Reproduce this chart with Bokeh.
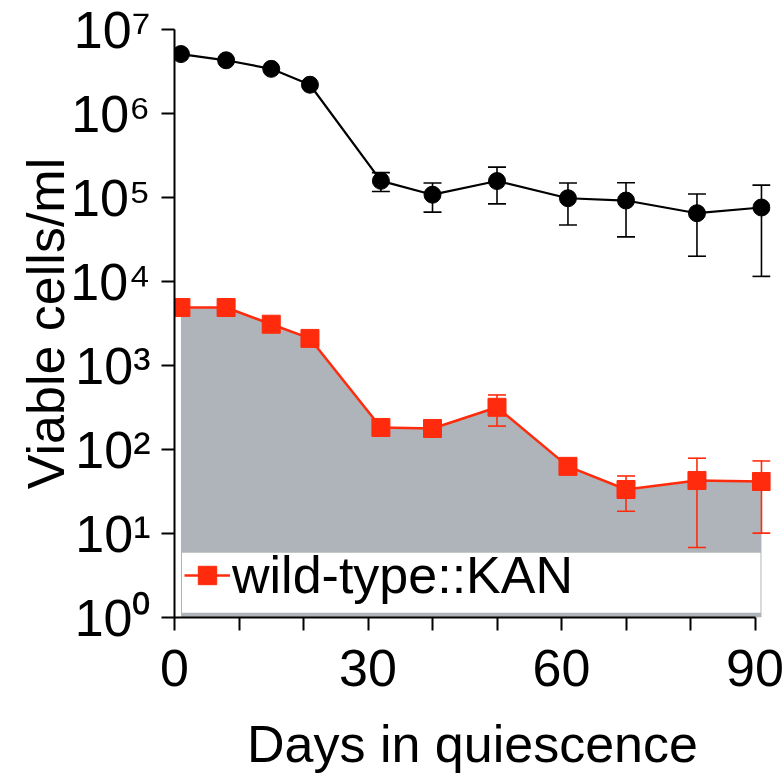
from bokeh.plotting import figure
from bokeh.models import (Range1d, FixedTicker, Legend, LegendItem, BoxAnnotation)
from bokeh.embed import file_html
from bokeh.resources import INLINE

# ---- data ----
days = [1, 8, 15, 21, 32, 40, 50, 61, 70, 81, 91]
black_cells = [5.1e6, 4.3e6, 3.4e6, 2.2e6, 1.58e5, 1.08e5, 1.57e5, 9.8e4, 9.2e4, 6.5e4, 7.6e4]
black_err = [0, 0, 0, 0, 4.0e4, 4.1e4, 7.3e4, 5.1e4, 5.8e4, 4.5e4, 6.45e4]
wt_kan_cells = [4900, 4900, 3100, 2100, 183, 178, 318, 63, 33.4, 42.8, 41.6]
wt_kan_err = [0, 0, 0, 0, 0, 0, 128, 0, 15, 36, 31.5]
legend_label = "wild-type::KAN"
x_title = "Days in quiescence"
y_title = "Viable cells/ml"
x_ticks = [0, 10, 20, 30, 40, 50, 60, 70, 80, 90]
x_tick_labels = ["0", "", "", "30", "", "", "60", "", "", "90"]
y_ticks = [1, 10, 100, 1e3, 1e4, 1e5, 1e6, 1e7]
y_tick_labels = ["10⁰", "10¹", "10²", "10³", "10⁴", "10⁵", "10⁶", "10⁷"]
area_floor = 1

FONT = "Liberation Sans"
RED = "#ff2b0c"
GRAY = "#aeb4b9"

p = figure(width=784, height=775, output_backend="svg", toolbar_location=None,
           y_axis_type="log", x_range=Range1d(0, 92.4), y_range=Range1d(1, 1e7),
           min_border_left=174, min_border_right=14, min_border_top=29,
           min_border_bottom=158)
p.xgrid.visible = False
p.ygrid.visible = False
p.outline_line_color = None
p.background_fill_color = "white"

# shaded area under the wild-type::KAN curve
p.varea(x=days, y1=[area_floor] * len(days), y2=wt_kan_cells, fill_color=GRAY)


def error_bars(xs, ys, errs, color):
    bx = [x for x, e in zip(xs, errs) if e > 0]
    lo = [y - e for y, e in zip(ys, errs) if e > 0]
    hi = [y + e for y, e in zip(ys, errs) if e > 0]
    p.segment(x0=bx, y0=lo, x1=bx, y1=hi, line_color=color, line_width=1.6)
    p.scatter(x=bx, y=lo, marker="dash", size=18, line_color=color, line_width=1.6)
    p.scatter(x=bx, y=hi, marker="dash", size=18, line_color=color, line_width=1.6)


error_bars(days, wt_kan_cells, wt_kan_err, RED)
error_bars(days, black_cells, black_err, "black")

red_line = p.line(days, wt_kan_cells, line_color=RED, line_width=2.5)
red_pts = p.scatter(days, wt_kan_cells, marker="square", size=18,
                    fill_color=RED, line_color=RED)
p.line(days, black_cells, line_color="black", line_width=2.2)
p.scatter(days, black_cells, marker="circle", size=17, fill_color="black",
          line_color="black")

# legend box
box = BoxAnnotation(left=7.5, right=586, bottom=4.7, top=64.7,
                    left_units="screen", right_units="screen",
                    bottom_units="screen", top_units="screen",
                    fill_color="white", fill_alpha=1.0, line_color=None)
p.add_layout(box)
legend = Legend(items=[LegendItem(label=legend_label, renderers=[red_line, red_pts])],
                location=(10, 12), padding=0, margin=0, spacing=0,
                glyph_width=46, glyph_height=46, label_standoff=2,
                label_text_font=FONT, label_text_font_size="52px",
                label_text_color="black",
                background_fill_alpha=0, border_line_color=None)
p.add_layout(legend)

for ax in (p.xaxis[0], p.yaxis[0]):
    ax.axis_line_width = 2
    ax.axis_line_color = "black"
    ax.major_tick_line_width = 2
    ax.major_tick_line_color = "black"
    ax.major_tick_out = 13
    ax.major_tick_in = 0
    ax.minor_tick_line_color = None
    ax.major_label_text_font = FONT
    ax.major_label_text_font_size = "52px"
    ax.major_label_text_color = "black"
    ax.axis_label_text_font = FONT
    ax.axis_label_text_font_size = "52px"
    ax.axis_label_text_font_style = "normal"
    ax.axis_label_text_color = "black"

p.xaxis.ticker = FixedTicker(ticks=x_ticks)
p.xaxis.major_label_overrides = dict(zip(x_ticks, x_tick_labels))
p.xaxis.bounds = (0, 90)
p.xaxis.major_label_standoff = 19
p.xaxis.axis_label = x_title
p.xaxis.axis_label_standoff = 26

p.yaxis.ticker = FixedTicker(ticks=y_ticks)
p.yaxis.major_label_overrides = dict(zip(y_ticks, y_tick_labels))
p.yaxis.major_label_standoff = 11
p.yaxis.axis_label = y_title
p.yaxis.axis_label_standoff = -8

open("out.html", "w").write(file_html(p, INLINE))
